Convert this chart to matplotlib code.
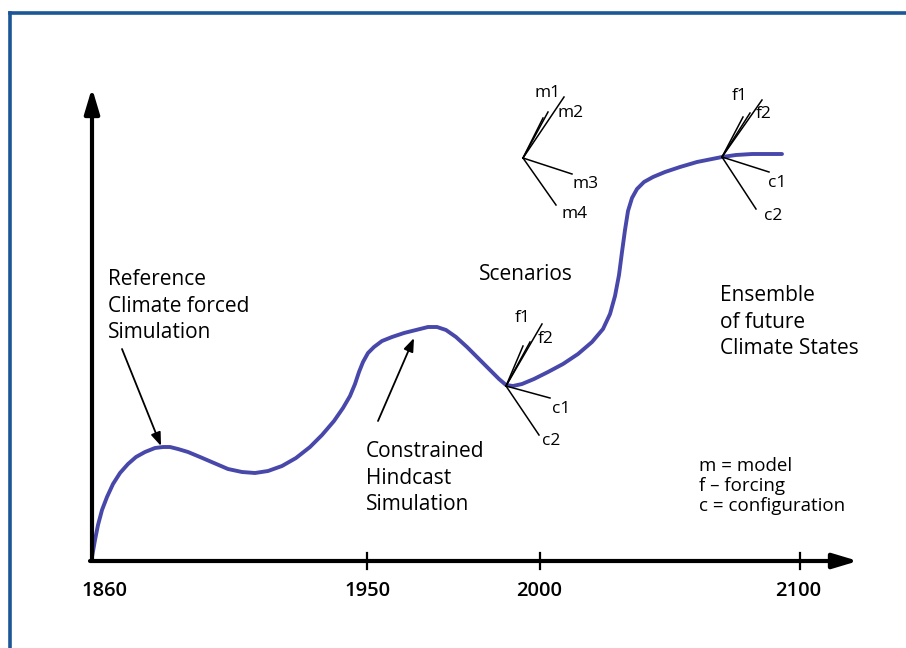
import matplotlib.pyplot as plt
from matplotlib.lines import Line2D

# schematic, coordinates (pixel units, y downwards)
curve_x = [92, 95, 98, 102, 107, 113, 120, 128, 136, 145, 155, 163, 170,
           178, 188, 200, 214, 228, 242, 255, 268, 282, 296, 310, 322, 334,
           343, 350, 355, 359, 363, 368, 374, 382, 392, 404, 416, 428, 437,
           446, 456, 467, 479, 490, 499, 506, 513, 522, 534, 548, 563, 578,
           592, 603, 610, 615, 619, 622, 625, 628, 632, 637, 644, 653, 665,
           680, 697, 712, 722, 736, 752, 768, 782]
curve_y = [557, 540, 525, 510, 497, 484, 473, 464, 457, 452, 448, 447, 447,
           449, 452, 457, 463, 469, 472, 473, 471, 466, 458, 447, 435, 421,
           408, 396, 384, 372, 362, 353, 347, 341, 337, 333, 330, 327, 327,
           330, 337, 347, 359, 370, 379, 385, 386, 384, 379, 372, 364, 354,
           342, 329, 314, 296, 275, 252, 230, 211, 198, 189, 182, 177, 172,
           167, 162, 159, 157, 155, 154, 154, 154]

tick_pos = [367, 540, 800]
tick_labels = ['1860', '1950', '2000', '2100']
tick_label_x = [104, 368, 539, 798]

# fans: origin, list of line ends, list of (label, x, y)
fans = [
    ((523, 158), [(564, 97), (543, 118), (548, 112), (572, 174), (556, 205)],
     [('m1', 548, 93), ('m2', 571, 113), ('m3', 586, 184), ('m4', 575, 214)]),
    ((506, 386), [(542, 324), (523, 346), (530, 342), (550, 398), (539, 435)],
     [('f1', 523, 318), ('f2', 546, 339), ('c1', 561, 409), ('c2', 551, 441)]),
    ((722, 157), [(762, 100), (743, 117), (750, 113), (769, 172), (756, 209)],
     [('f1', 740, 96), ('f2', 764, 114), ('c1', 777, 183), ('c2', 773, 216)]),
]

fig = plt.figure(figsize=(9.06, 6.48), dpi=100)
ax = fig.add_axes([0, 0, 1, 1])
ax.set_xlim(0, 906)
ax.set_ylim(648, 0)
ax.axis('off')

font = 'Open Sans'
border = '#1b5796'

# frame
ax.add_line(Line2D([10, 10], [648, 13], color=border, lw=2.6))
ax.add_line(Line2D([10, 906], [13, 13], color=border, lw=2.6))

# axes
ax.annotate('', xy=(92, 88), xytext=(92, 561),
            arrowprops=dict(arrowstyle='-|>,head_length=1.5,head_width=0.45',
                            lw=3, color='black', shrinkA=0, shrinkB=0))
ax.annotate('', xy=(858, 561), xytext=(90, 561),
            arrowprops=dict(arrowstyle='-|>,head_length=1.5,head_width=0.45',
                            lw=3, color='black', shrinkA=0, shrinkB=0))
for x in tick_pos:
    ax.plot([x, x], [553, 569], color='black', lw=1.6)
for lab, x in zip(tick_labels, tick_label_x):
    ax.text(x, 591, lab, ha='center', va='center', fontsize=14.5,
            family=font, fontweight='semibold')

# curve
ax.plot(curve_x, curve_y, color='#4848aa', lw=2.8, solid_capstyle='round',
        solid_joinstyle='round')

# fans
for (ox, oy), ends, labels in fans:
    for ex, ey in ends:
        ax.plot([ox, ex], [oy, ey], color='black', lw=1.1)
    for lab, x, y in labels:
        ax.text(x, y, lab, ha='center', va='center', fontsize=12.5,
                family=font)

# annotations
txt = dict(fontsize=15, family=font, ha='left', va='center', linespacing=1.35)
ax.text(108, 306, 'Reference\nClimate forced\nSimulation', **txt)
ax.text(366, 478, 'Constrained\nHindcast\nSimulation', **txt)
ax.text(479, 274, 'Scenarios', **txt)
ax.text(720, 322, 'Ensemble\nof future\nClimate States', **txt)
ax.text(699, 486, 'm = model\nf \u2013 forcing\nc = configuration',
        fontsize=13.5, family=font, ha='left', va='center', linespacing=1.12)

ax.annotate('', xy=(161, 446), xytext=(122, 349),
            arrowprops=dict(arrowstyle='-|>,head_length=0.8,head_width=0.3',
                            lw=1.3, color='black', shrinkA=0, shrinkB=0))
ax.annotate('', xy=(414, 338), xytext=(378, 421),
            arrowprops=dict(arrowstyle='-|>,head_length=0.8,head_width=0.3',
                            lw=1.3, color='black', shrinkA=0, shrinkB=0))

fig.savefig('out.png', dpi=100)
